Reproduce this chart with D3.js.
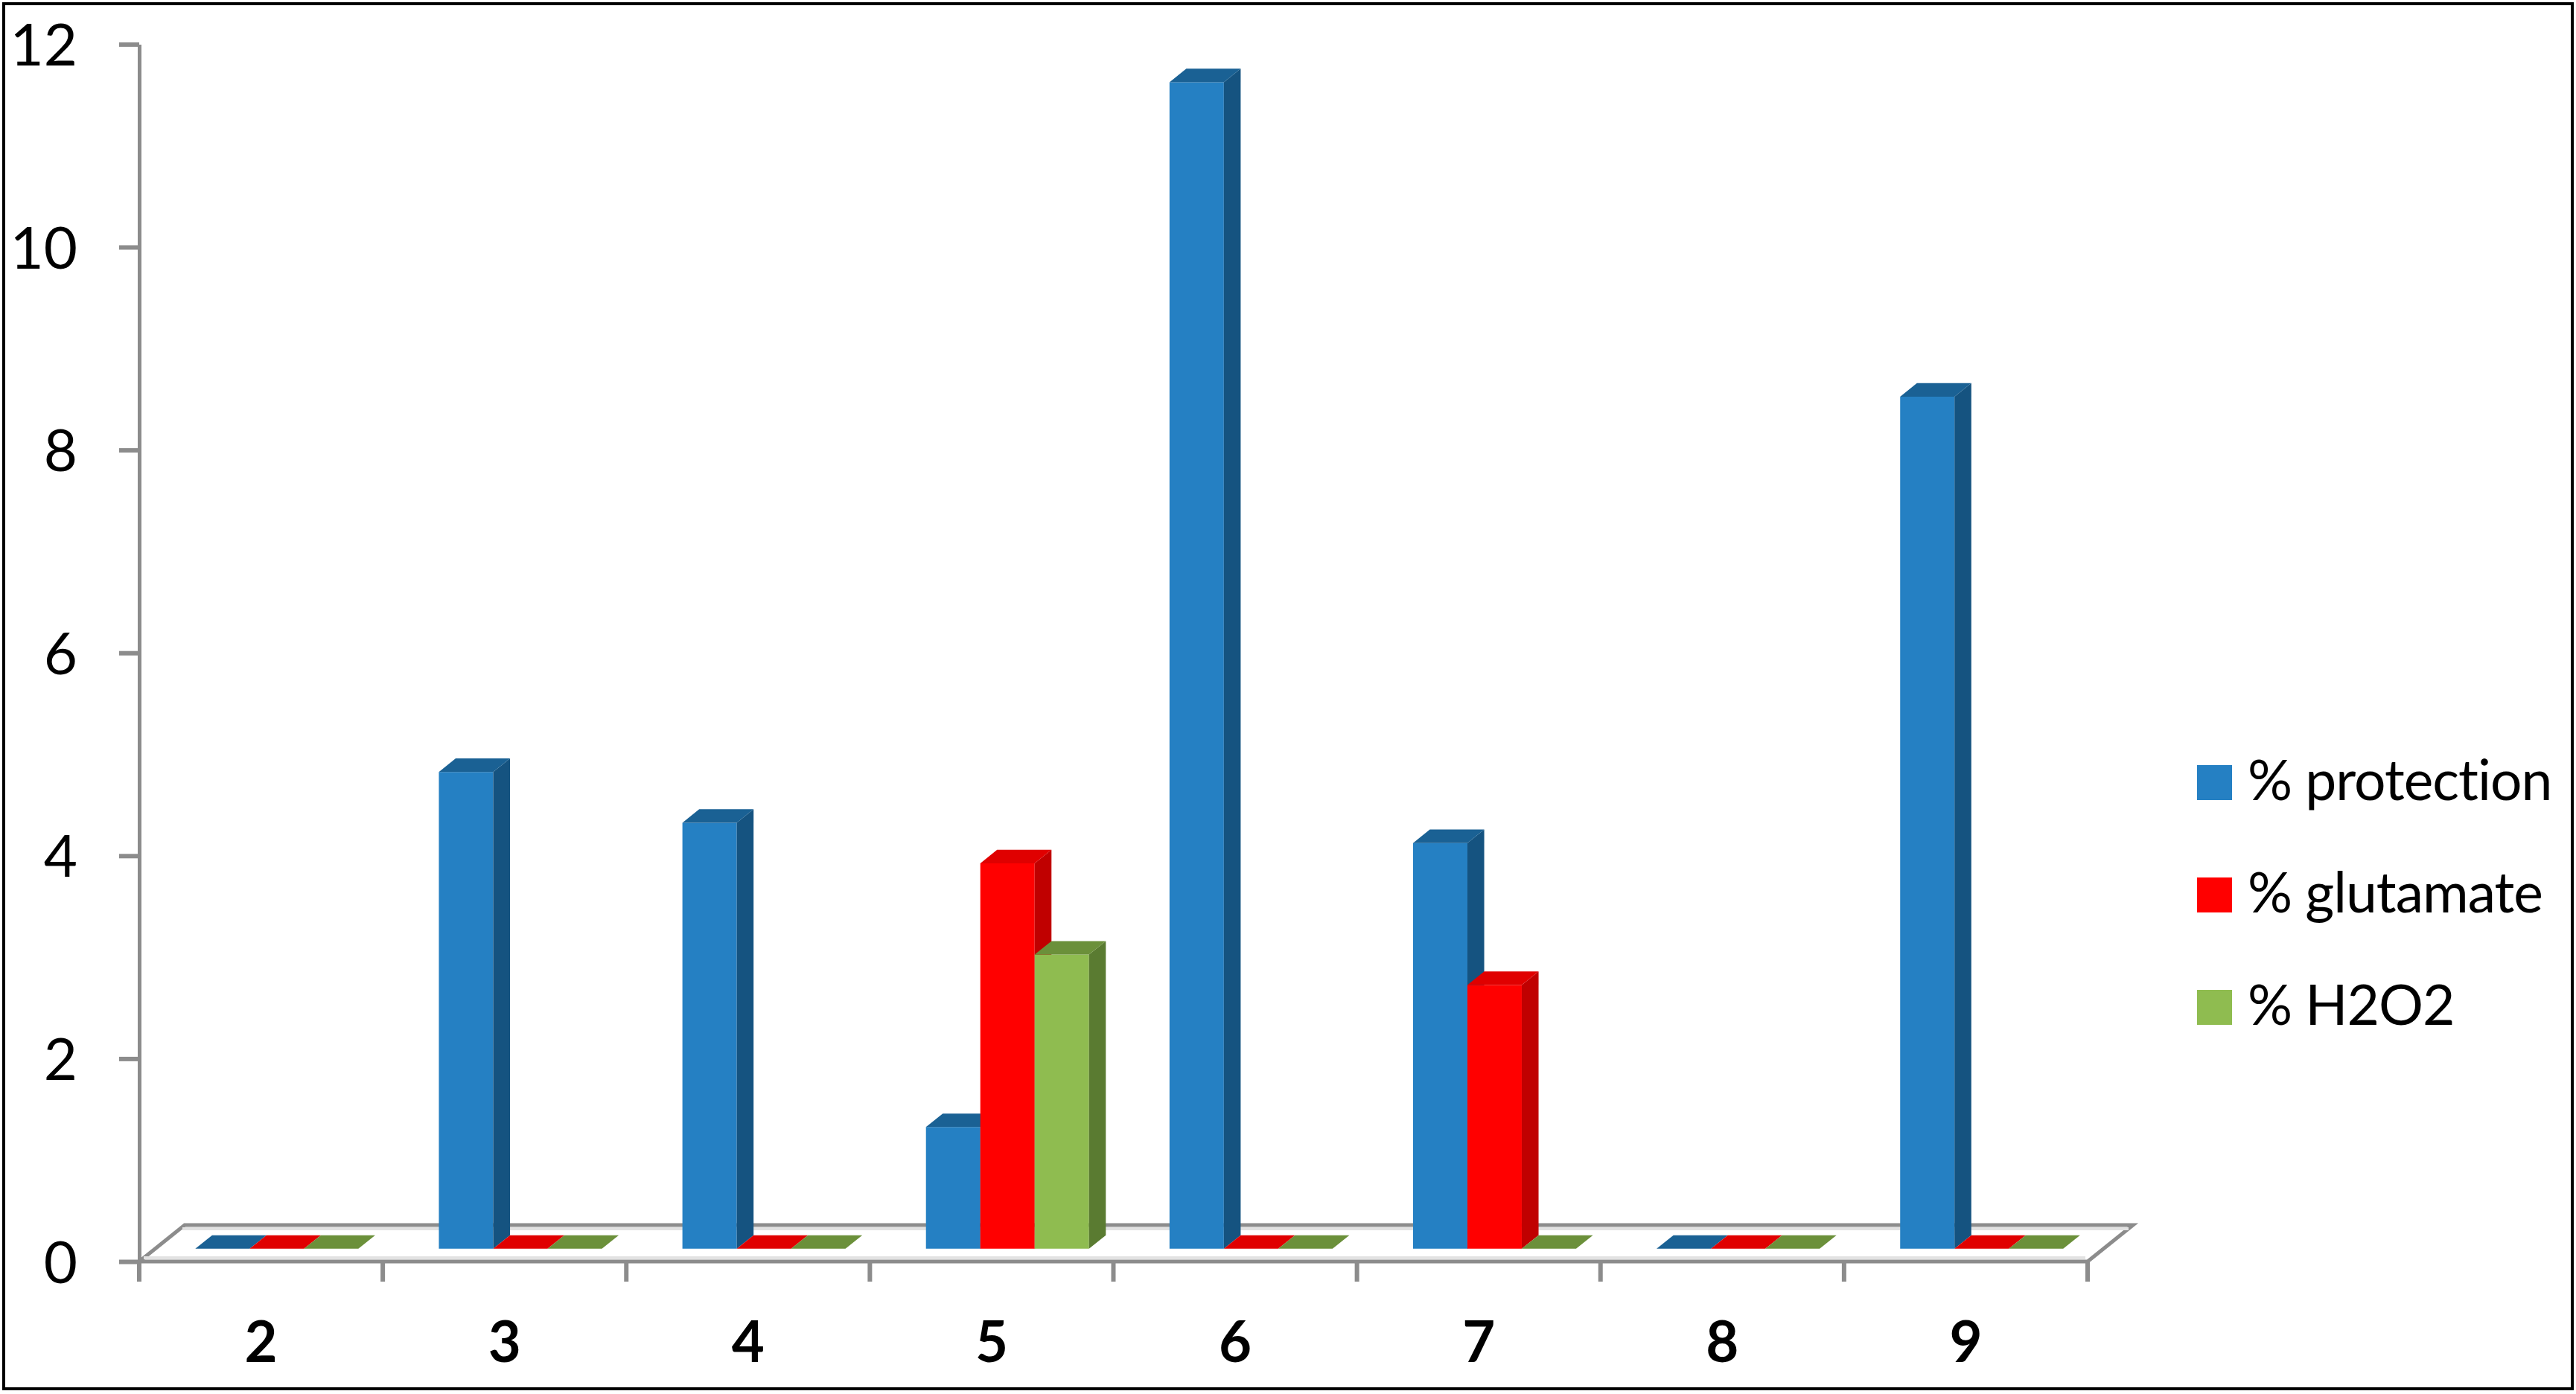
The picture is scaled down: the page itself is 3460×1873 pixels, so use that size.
<!DOCTYPE html>
<html>
<head>
<meta charset="utf-8">
<script src="https://cdn.jsdelivr.net/npm/d3@7"></script>
<style>
  body { margin: 0; background: #fff; }
  svg { display: block; }
</style>
</head>
<body>
<svg width="3460" height="1873"></svg>
<script>
// values
const categories = ['2', '3', '4', '5', '6', '7', '8', '9']
const protection = [0, 4.7, 4.2, 1.2, 11.5, 4.0, 0, 8.4]
const glutamate = [0, 0, 0, 3.8, 0, 2.6, 0, 0]
const h2o2 = [0, 0, 0, 2.9, 0, 0, 0, 0]
const seriesNames = ['% protection', '% glutamate', '% H2O2']
const yTicks = [0, 2, 4, 6, 8, 10, 12]

const seriesValues = [protection, glutamate, h2o2]
const colors = [
  { front: '#2580c3', top: '#1a6194', side: '#155380' },
  { front: '#ff0000', top: '#e00000', side: '#c00000' },
  { front: '#8fbc50', top: '#6b903a', side: '#5a7b31' }
]

const svg = d3.select('svg')
const width = 3460
const height = 1873
const font = 'Lato, "Open Sans", sans-serif'
const grey = '#8c8c8c'

svg.append('rect').attr('width', width).attr('height', height).attr('fill', '#fff')

const x = d3.scaleBand().domain(categories).range([187, 2804])
const xs = d3.scaleBand().domain(seriesNames).range([54, 54 + 219])
const y = d3.scaleLinear().domain([0, 12]).range([1695, 59.4])

// oblique depth of the floor, and where the bars sit inside it
const depth = [61, -49]
const barShift = [depth[0] * 0.35, depth[1] * 0.35]
const barDepth = [depth[0] * 0.37, depth[1] * 0.37]

const pts = arr => arr.map(p => p.join(',')).join(' ')

// floor
const x0 = x.range()[0], x1 = x.range()[1], yz = y(0)
svg.append('polygon')
  .attr('points', pts([[x0, yz], [x1, yz], [x1 + depth[0], yz + depth[1]], [x0 + depth[0], yz + depth[1]]]))
  .attr('fill', '#fff')
  .attr('stroke', grey)
  .attr('stroke-width', 5)
  .attr('stroke-linejoin', 'miter')
svg.append('line')
  .attr('x1', x0 + depth[0] - 3).attr('x2', x1 + depth[0] - 6)
  .attr('y1', yz + depth[1] + 5).attr('y2', yz + depth[1] + 5)
  .attr('stroke', '#e2e2e2').attr('stroke-width', 4)
svg.append('line')
  .attr('x1', x0 + 6).attr('x2', x1 - 3)
  .attr('y1', yz - 5).attr('y2', yz - 5)
  .attr('stroke', '#e2e2e2').attr('stroke-width', 4)

// y axis
const yAxis = svg.append('g')
  .attr('transform', `translate(${x0},0)`)
  .call(d3.axisLeft(y).tickValues(yTicks).tickSize(27).tickSizeOuter(0).tickPadding(56))
yAxis.select('.domain').attr('stroke', grey).attr('stroke-width', 5)
yAxis.selectAll('.tick line').attr('stroke', grey).attr('stroke-width', 6)
yAxis.selectAll('.tick text')
  .attr('fill', '#000')
  .style('font-family', font)
  .style('font-size', '78px')
  .attr('dy', '0.36em')

// x axis: ticks on the band edges, labels at band centres
const edges = categories.map(c => x(c)).concat([x1])
svg.append('g').selectAll('line').data(edges)
  .enter().append('line')
    .attr('x1', d => d).attr('x2', d => d)
    .attr('y1', yz).attr('y2', yz + 27)
    .attr('stroke', grey).attr('stroke-width', 6)

const xAxis = svg.append('g')
  .attr('transform', `translate(0,${yz})`)
  .call(d3.axisBottom(x).tickSize(0).tickPadding(0))
xAxis.select('.domain').remove()
xAxis.selectAll('.tick text')
  .attr('y', 135)
  .attr('dy', 0)
  .attr('fill', '#000')
  .style('font-family', font)
  .style('font-weight', 'bold')
  .style('font-size', '76px')

// 3d columns
const bars = svg.append('g')
categories.forEach((c, i) => {
  seriesNames.forEach((s, j) => {
    const v = seriesValues[j][i]
    const col = colors[j]
    const left = x(c) + xs(s) + barShift[0]
    const right = left + xs.bandwidth()
    const base = y(0) + barShift[1]
    const top = y(v) + barShift[1]
    const [dx, dy] = barDepth
    if (v > 0) {
      bars.append('polygon')
        .attr('points', pts([[left, top], [right, top], [right, base], [left, base]]))
        .attr('fill', col.front)
      bars.append('polygon')
        .attr('points', pts([[right, top], [right + dx, top + dy], [right + dx, base + dy], [right, base]]))
        .attr('fill', col.side)
    }
    bars.append('polygon')
      .attr('points', pts([[left, top], [left + dx, top + dy], [right + dx, top + dy], [right, top]]))
      .attr('fill', col.top)
  })
})

// legend
const legend = svg.append('g')
  .selectAll('g').data(seriesNames)
  .enter().append('g')
    .attr('transform', (d, i) => `translate(2951,${1028 + i * 151})`)
legend.append('rect')
  .attr('width', 47).attr('height', 47)
  .attr('fill', (d, i) => colors[i].front)
legend.append('text')
  .attr('x', 68).attr('y', 47)
  .attr('fill', '#000')
  .style('font-family', font)
  .style('font-size', '75px')
  .style('letter-spacing', '-1px')
  .text(d => d)

// frame
svg.append('rect')
  .attr('x', 5).attr('y', 5)
  .attr('width', 3450).attr('height', 1861)
  .attr('fill', 'none')
  .attr('stroke', '#000')
  .attr('stroke-width', 4)
</script>
</body>
</html>
